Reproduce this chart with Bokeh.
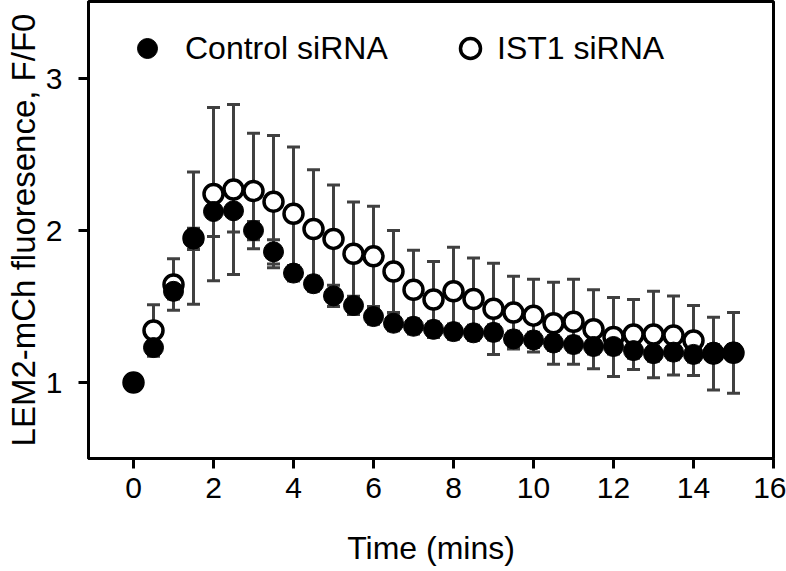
from bokeh.plotting import figure
from bokeh.models import (Range1d, FixedTicker, ColumnDataSource, Whisker, TeeHead,
                          Legend, LegendItem)
from bokeh.embed import file_html
from bokeh.resources import INLINE

# ---- data ----
time_min = [0, 0.5, 1, 1.5, 2, 2.5, 3, 3.5, 4, 4.5, 5, 5.5, 6, 6.5, 7, 7.5,
            8, 8.5, 9, 9.5, 10, 10.5, 11, 11.5, 12, 12.5, 13, 13.5, 14, 14.5, 15]
control_mean = [1.00, 1.23, 1.60, 1.945, 2.125, 2.13, 2.00, 1.86, 1.72, 1.65, 1.57,
                1.507, 1.434, 1.39, 1.37, 1.35, 1.335, 1.327, 1.33, 1.287, 1.28,
                1.26, 1.25, 1.237, 1.237, 1.21, 1.19, 1.20, 1.185, 1.20, 1.20]
control_sem = [0.0, 0.03, 0.05, 0.07, 0.165, 0.14, 0.06, 0.08, 0.05, 0.05, 0.07,
               0.06, 0.05, 0.05, 0.05, 0.05, 0.05, 0.05, 0.05, 0.05, 0.05,
               0.05, 0.05, 0.05, 0.05, 0.05, 0.05, 0.05, 0.05, 0.05, 0.05]
ist1_mean = [1.00, 1.342, 1.645, 1.95, 2.24, 2.27, 2.26, 2.19, 2.11, 2.01, 1.945,
             1.847, 1.83, 1.73, 1.61, 1.546, 1.60, 1.55, 1.485, 1.46, 1.44,
             1.39, 1.40, 1.35, 1.30, 1.316, 1.316, 1.31, 1.276, 1.19, 1.195]
ist1_sem = [0.0, 0.17, 0.17, 0.435, 0.57, 0.56, 0.38, 0.435, 0.44, 0.39, 0.355,
            0.34, 0.33, 0.27, 0.26, 0.25, 0.29, 0.27, 0.30, 0.24, 0.24,
            0.27, 0.28, 0.26, 0.26, 0.23, 0.285, 0.26, 0.23, 0.24, 0.265]
x_ticks = [0, 2, 4, 6, 8, 10, 12, 14, 16]
y_ticks = [1, 2, 3]
series_labels = ["Control siRNA", "IST1 siRNA"]
x_title = "Time (mins)"
y_title = "LEM2-mCh fluoresence, F/F0"

FONT = "Liberation Sans"
BAR = "#404040"

ctrl = ColumnDataSource(dict(
    t=time_min, y=control_mean,
    lo=[m - s for m, s in zip(control_mean, control_sem)],
    hi=[m + s for m, s in zip(control_mean, control_sem)]))
ist = ColumnDataSource(dict(
    t=time_min, y=ist1_mean,
    lo=[m - s for m, s in zip(ist1_mean, ist1_sem)],
    hi=[m + s for m, s in zip(ist1_mean, ist1_sem)]))

p = figure(width=786, height=571, output_backend="svg", toolbar_location=None,
           x_range=Range1d(-1.125, 16), y_range=Range1d(0.5, 3.507),
           min_border_left=88, min_border_right=13, min_border_top=1,
           min_border_bottom=113)
p.grid.visible = False
p.outline_line_color = "black"
p.outline_line_width = 3
p.background_fill_color = "white"
p.border_fill_color = "white"

for src in (ist, ctrl):
    w = Whisker(base="t", lower="lo", upper="hi", source=src,
                line_color=BAR, line_width=3, level="underlay",
                upper_head=TeeHead(size=13, line_color=BAR, line_width=3),
                lower_head=TeeHead(size=13, line_color=BAR, line_width=3))
    p.add_layout(w)

r_ist = p.scatter("t", "y", source=ist, marker="circle", size=19,
                  fill_color="white", line_color="black", line_width=3.5)
r_ctrl = p.scatter("t", "y", source=ctrl, marker="circle", size=20,
                   fill_color="black", line_color="black", line_width=1)

for ax in (p.xaxis[0], p.yaxis[0]):
    ax.axis_line_width = 3
    ax.axis_line_color = "black"
    ax.major_tick_line_width = 3
    ax.major_tick_line_color = "black"
    ax.major_tick_out = 10
    ax.major_tick_in = 0
    ax.minor_tick_line_color = None
    ax.major_label_text_font = FONT
    ax.major_label_text_font_size = "30px"
    ax.major_label_text_color = "black"
    ax.axis_label_text_font = FONT
    ax.axis_label_text_font_style = "normal"
    ax.axis_label_text_color = "black"

p.xaxis[0].axis_label_text_font_size = "32px"
p.yaxis[0].axis_label_text_font_size = "33px"
p.xaxis[0].ticker = FixedTicker(ticks=x_ticks)
p.yaxis[0].ticker = FixedTicker(ticks=y_ticks)
p.xaxis[0].axis_label = x_title
p.yaxis[0].axis_label = y_title
p.xaxis[0].major_label_standoff = 9
p.xaxis[0].axis_label_standoff = 29
p.yaxis[0].major_label_standoff = 16
p.yaxis[0].axis_label_standoff = 1

def make_legend(label, rend, loc, standoff):
    lg = Legend(items=[LegendItem(label=label, renderers=[rend])],
                location=loc, orientation="horizontal",
                glyph_width=50, glyph_height=50, label_standoff=standoff,
                label_text_font=FONT, label_text_font_size="32px",
                label_text_color="black", label_height=50,
                padding=0, margin=0, spacing=0,
                border_line_alpha=0, background_fill_alpha=0)
    p.add_layout(lg, "center")

make_legend(series_labels[0], r_ctrl, (34, 385), 13)
make_legend(series_labels[1], r_ist, (357, 385), 2)

open("out.html", "w").write(file_html(p, INLINE))
